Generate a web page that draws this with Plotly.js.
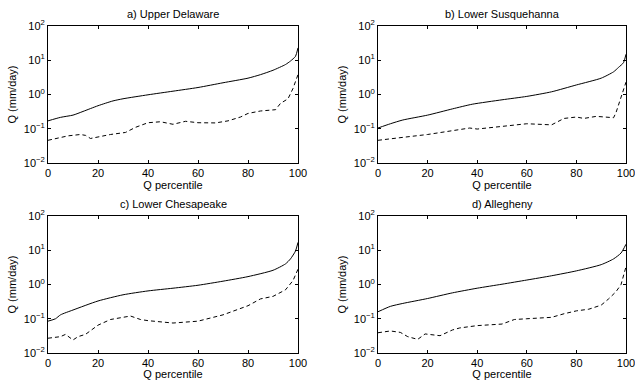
<!DOCTYPE html>
<html>
<head>
<meta charset="utf-8">
<script src="https://cdn.plot.ly/plotly-3.0.1.min.js"></script>
<style>html,body{margin:0;padding:0;background:#fff;}#chart{width:635px;height:380px;}</style>
</head>
<body>
<div id="chart"></div>
<script>
// Panel titles
const panelTitles = ["a) Upper Delaware", "b) Lower Susquehanna", "c) Lower Chesapeake", "d) Allegheny"];

// a) Upper Delaware
const aSolidX = [0, 5, 10, 14, 20, 26, 30, 40, 50, 60, 70, 80, 85, 90, 95, 97, 99, 100];
const aSolidY = [0.17, 0.215, 0.25, 0.32, 0.47, 0.65, 0.75, 0.98, 1.25, 1.6, 2.2, 3.0, 3.8, 5.1, 7.5, 9.5, 13, 23];
const aDashX = [0, 5, 8, 13, 15, 17, 20, 25, 31, 35, 40, 45, 50, 55, 60, 67, 72, 77, 80, 85, 91, 93, 96, 98, 99, 100];
const aDashY = [0.046, 0.056, 0.062, 0.068, 0.064, 0.052, 0.058, 0.068, 0.078, 0.11, 0.15, 0.16, 0.135, 0.165, 0.15, 0.148, 0.17, 0.22, 0.28, 0.33, 0.36, 0.55, 0.75, 1.5, 2.4, 3.8];

// b) Lower Susquehanna
const bSolidX = [0, 5, 10, 20, 30, 38, 50, 60, 70, 80, 90, 95, 97, 99, 100];
const bSolidY = [0.105, 0.14, 0.18, 0.25, 0.38, 0.52, 0.7, 0.88, 1.2, 1.9, 3.0, 4.6, 6.2, 8.5, 15];
const bDashX = [0, 5, 10, 20, 30, 37, 40, 50, 60, 70, 75, 80, 83, 88, 95, 96, 98, 99, 100];
const bDashY = [0.046, 0.052, 0.056, 0.068, 0.088, 0.105, 0.098, 0.118, 0.14, 0.13, 0.2, 0.22, 0.2, 0.23, 0.21, 0.3, 0.9, 1.4, 2.3];

// c) Lower Chesapeake
const cSolidX = [0, 3, 5, 10, 20, 30, 40, 50, 60, 70, 80, 90, 95, 97, 99, 100];
const cSolidY = [0.085, 0.1, 0.13, 0.18, 0.33, 0.5, 0.65, 0.78, 0.95, 1.25, 1.7, 2.6, 4.0, 5.6, 9.5, 17];
const cDashX = [0, 5, 7, 10, 12, 15, 20, 25, 30, 33, 37, 40, 50, 60, 70, 80, 85, 90, 95, 98, 100];
const cDashY = [0.027, 0.03, 0.035, 0.024, 0.03, 0.035, 0.065, 0.095, 0.11, 0.12, 0.095, 0.088, 0.075, 0.085, 0.13, 0.24, 0.38, 0.45, 0.7, 1.3, 2.8];

// d) Allegheny
const dSolidX = [0, 5, 10, 20, 30, 40, 50, 60, 70, 80, 90, 95, 98, 100];
const dSolidY = [0.16, 0.23, 0.28, 0.39, 0.57, 0.78, 1.02, 1.35, 1.8, 2.5, 3.8, 5.6, 8.3, 15];
const dDashX = [0, 5, 9, 12, 16, 19, 25, 30, 33, 40, 50, 55, 60, 65, 70, 75, 80, 85, 90, 93, 96, 98, 100];
const dDashY = [0.039, 0.044, 0.04, 0.03, 0.025, 0.036, 0.032, 0.047, 0.054, 0.063, 0.07, 0.095, 0.1, 0.105, 0.11, 0.14, 0.17, 0.19, 0.25, 0.38, 0.62, 1.0, 3.3];

// Tick labels
const xTickVals = [0, 20, 40, 60, 80, 100];
const xTickText = ["0", "20", "40", "60", "80", "100"];
const yTickVals = [0.01, 0.1, 1, 10, 100];
const yTickText = ["10<sup>\u22122</sup>", "10<sup>\u22121</sup>", "10<sup>0</sup>", "10<sup>1</sup>", "10<sup>2</sup>"];

const xLabel = "Q percentile";
const yLabel = "Q (mm/day)";

const panels = [
  {sx: aSolidX, sy: aSolidY, dx: aDashX, dy: aDashY},
  {sx: bSolidX, sy: bSolidY, dx: bDashX, dy: bDashY},
  {sx: cSolidX, sy: cSolidY, dx: cDashX, dy: cDashY},
  {sx: dSolidX, sy: dSolidY, dx: dDashX, dy: dDashY}
];

const W = 635, H = 380;
const xDomains = [[48 / W, 298 / W], [378 / W, 626 / W]];
const yDomains = [[1 - 163 / H, 1 - 26 / H], [1 - 353 / H, 1 - 216 / H]];

const font = {family: "Liberation Sans, Arial, Helvetica, sans-serif", size: 11, color: "#000"};

const traces = [];
const layout = {
  width: W, height: H,
  margin: {l: 0, r: 0, t: 0, b: 0},
  paper_bgcolor: "#fff", plot_bgcolor: "#fff",
  showlegend: false,
  font: font,
  annotations: []
};

panels.forEach((p, i) => {
  const n = i + 1;
  const xa = n === 1 ? "x" : "x" + n;
  const ya = n === 1 ? "y" : "y" + n;
  traces.push({x: p.sx, y: p.sy, xaxis: xa, yaxis: ya, mode: "lines", line: {color: "#000", width: 1, shape: "spline", smoothing: 0.6}});
  traces.push({x: p.dx, y: p.dy, xaxis: xa, yaxis: ya, mode: "lines", line: {color: "#000", width: 1, dash: "4px,3px"}});
  const col = i % 2, row = Math.floor(i / 2);
  const axBase = {showline: true, linecolor: "#000", linewidth: 1, mirror: "ticks", ticks: "inside", ticklen: 3, tickcolor: "#000", showgrid: false, zeroline: false, tickfont: font, fixedrange: true, ticklabeloverflow: "allow", automargin: false};
  layout["xaxis" + (n === 1 ? "" : n)] = Object.assign({}, axBase, {
    domain: xDomains[col], anchor: ya, range: [0, 100], tickmode: "array", tickvals: xTickVals, ticktext: xTickText,
    title: {text: xLabel, font: font, standoff: 0}
  });
  layout["yaxis" + (n === 1 ? "" : n)] = Object.assign({}, axBase, {
    domain: yDomains[row], anchor: xa, type: "log", range: [-2, 2], tickmode: "array", tickvals: yTickVals, ticktext: yTickText,
    title: {text: yLabel, font: font, standoff: 4}
  });
  layout.annotations.push({
    text: panelTitles[i], xref: "paper", yref: "paper",
    x: (xDomains[col][0] + xDomains[col][1]) / 2, y: yDomains[row][1],
    xanchor: "center", yanchor: "bottom", yshift: 4, showarrow: false, font: font
  });
});

Plotly.newPlot("chart", traces, layout, {displayModeBar: false, staticPlot: true});
</script>
</body>
</html>
